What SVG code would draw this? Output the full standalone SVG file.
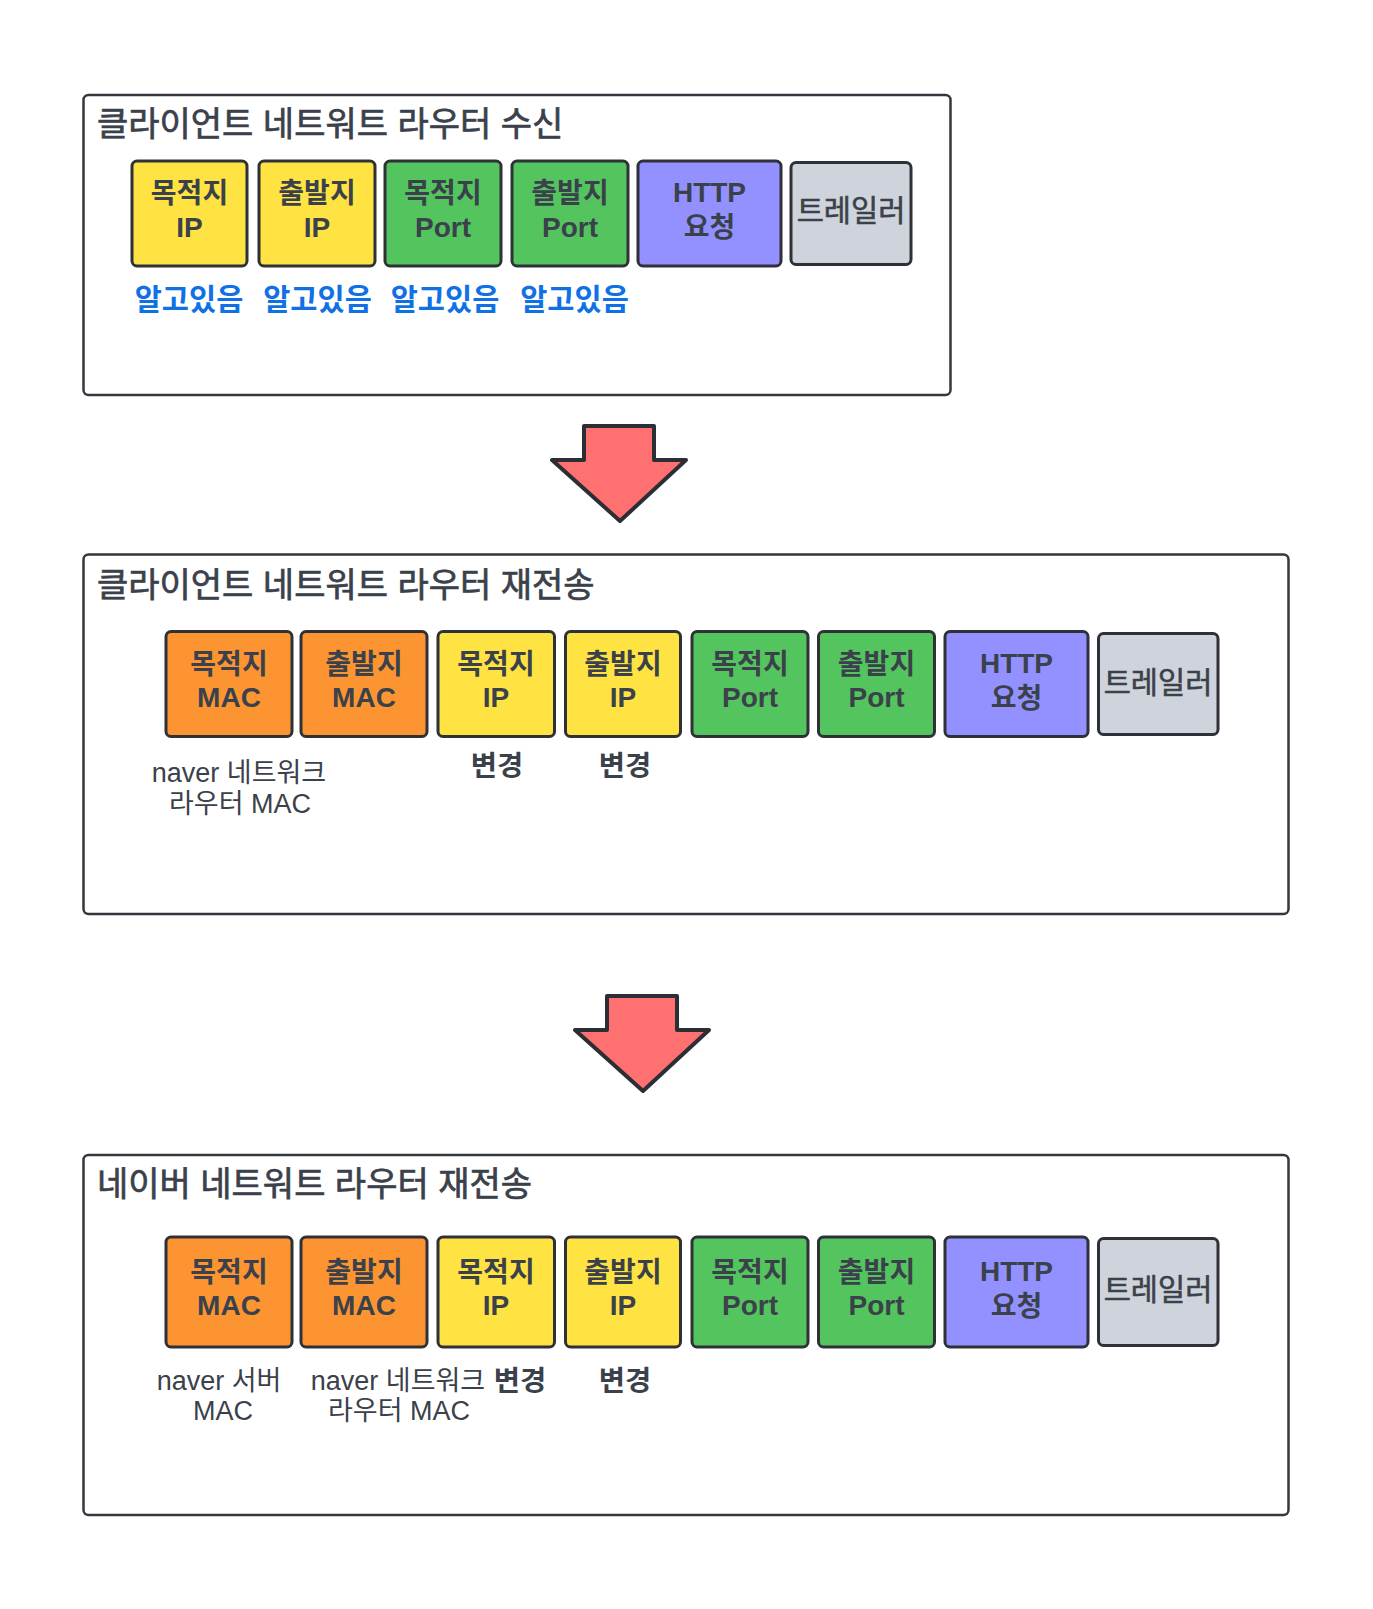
<svg xmlns="http://www.w3.org/2000/svg" width="1373" height="1609" viewBox="0 0 1373 1609">
<style>
text{font-family:"Liberation Sans","Noto Sans CJK KR",sans-serif;fill:#3b414b;text-anchor:middle}
.panel{fill:#ffffff;stroke:#33373e;stroke-width:2.5}
.blk{stroke:#2e3137;stroke-width:3}
.y{fill:#ffe342}.g{fill:#54c45e}.o{fill:#fc9432}.p{fill:#9391ff}.gr{fill:#cfd4dc}
.title{font-size:34px;text-anchor:start;stroke:#3b414b;stroke-width:0.7}
.bt{font-size:28px;font-weight:bold}
.tr{font-size:29.5px;stroke:#3b414b;stroke-width:0.6}
.blue{font-size:29.5px;font-weight:bold;fill:#1071e5}
.lab{font-size:27px}
.chg{font-size:28.5px;font-weight:bold}
.arrow{fill:#ff7070;stroke:#2b2e34;stroke-width:4;stroke-linejoin:round}
</style>
<rect width="1373" height="1609" fill="#ffffff"/>

<!-- Panel 1 -->
<g id="panel1">
<rect class="panel" x="83.5" y="95" width="867" height="300" rx="5"/>
<text class="title" x="97" y="135.5">클라이언트 네트워트 라우터 수신</text>
</g>
<g id="p1-dst-ip"><rect class="blk y" x="132" y="161" width="115" height="105" rx="5"/><text class="bt" x="189.5" y="203">목적지</text><text class="bt" x="189.5" y="237">IP</text></g>
<g id="p1-src-ip"><rect class="blk y" x="259" y="161" width="116" height="105" rx="5"/><text class="bt" x="317" y="203">출발지</text><text class="bt" x="317" y="237">IP</text></g>
<g id="p1-dst-port"><rect class="blk g" x="385" y="161" width="116" height="105" rx="5"/><text class="bt" x="443" y="203">목적지</text><text class="bt" x="443" y="237">Port</text></g>
<g id="p1-src-port"><rect class="blk g" x="512" y="161" width="116" height="105" rx="5"/><text class="bt" x="570" y="203">출발지</text><text class="bt" x="570" y="237">Port</text></g>
<g id="p1-http"><rect class="blk p" x="638" y="161" width="143" height="105" rx="5"/><text class="bt" x="709.5" y="202">HTTP</text><text class="bt" x="709.5" y="237">요청</text></g>
<g id="p1-trailer"><rect class="blk gr" x="791" y="162.5" width="120" height="102" rx="5"/><text class="tr" x="851" y="221">트레일러</text></g>
<g id="p1-labels">
<text class="blue" x="189" y="309.5">알고있음</text>
<text class="blue" x="317.5" y="309.5">알고있음</text>
<text class="blue" x="445" y="309.5">알고있음</text>
<text class="blue" x="574.5" y="309.5">알고있음</text>
</g>

<!-- Connectors -->
<g id="connectors">
<path class="arrow" d="M584,426 L654,426 L654,460 L686,460 L620,521 L552,460 L584,460 Z"/>
<path class="arrow" transform="translate(23,570)" d="M584,426 L654,426 L654,460 L686,460 L620,521 L552,460 L584,460 Z"/>
</g>

<!-- Panel 2 -->
<g id="panel2">
<rect class="panel" x="83.5" y="554.5" width="1205" height="359.5" rx="5"/>
<text class="title" x="97" y="596.5">클라이언트 네트워트 라우터 재전송</text>
</g>
<g id="p2-dst-mac"><rect class="blk o" x="166" y="631.5" width="126" height="105" rx="5"/><text class="bt" x="229" y="674">목적지</text><text class="bt" x="229" y="707">MAC</text></g>
<g id="p2-src-mac"><rect class="blk o" x="301" y="631.5" width="126" height="105" rx="5"/><text class="bt" x="364" y="674">출발지</text><text class="bt" x="364" y="707">MAC</text></g>
<g id="p2-dst-ip"><rect class="blk y" x="438" y="631.5" width="116.5" height="105" rx="5"/><text class="bt" x="496" y="674">목적지</text><text class="bt" x="496" y="707">IP</text></g>
<g id="p2-src-ip"><rect class="blk y" x="565.5" y="631.5" width="115" height="105" rx="5"/><text class="bt" x="623" y="674">출발지</text><text class="bt" x="623" y="707">IP</text></g>
<g id="p2-dst-port"><rect class="blk g" x="692" y="631.5" width="116" height="105" rx="5"/><text class="bt" x="750" y="674">목적지</text><text class="bt" x="750" y="707">Port</text></g>
<g id="p2-src-port"><rect class="blk g" x="818.5" y="631.5" width="116" height="105" rx="5"/><text class="bt" x="876.5" y="674">출발지</text><text class="bt" x="876.5" y="707">Port</text></g>
<g id="p2-http"><rect class="blk p" x="945" y="631.5" width="143" height="105" rx="5"/><text class="bt" x="1016.5" y="673">HTTP</text><text class="bt" x="1016.5" y="708">요청</text></g>
<g id="p2-trailer"><rect class="blk gr" x="1098.5" y="633.5" width="119.5" height="101" rx="5"/><text class="tr" x="1158" y="692.5">트레일러</text></g>
<g id="p2-labels">
<text class="lab" x="239" y="782">naver 네트워크</text>
<text class="lab" x="240" y="813">라우터 MAC</text>
<text class="chg" x="497" y="776">변경</text>
<text class="chg" x="625" y="776">변경</text>
</g>

<!-- Panel 3 -->
<g id="panel3">
<rect class="panel" x="83.5" y="1155" width="1205" height="360" rx="5"/>
<text class="title" x="97" y="1196">네이버 네트워트 라우터 재전송</text>
</g>
<g id="p3-dst-mac"><rect class="blk o" x="166" y="1237" width="126" height="110" rx="5"/><text class="bt" x="229" y="1282">목적지</text><text class="bt" x="229" y="1315">MAC</text></g>
<g id="p3-src-mac"><rect class="blk o" x="301" y="1237" width="126" height="110" rx="5"/><text class="bt" x="364" y="1282">출발지</text><text class="bt" x="364" y="1315">MAC</text></g>
<g id="p3-dst-ip"><rect class="blk y" x="438" y="1237" width="116.5" height="110" rx="5"/><text class="bt" x="496" y="1282">목적지</text><text class="bt" x="496" y="1315">IP</text></g>
<g id="p3-src-ip"><rect class="blk y" x="565.5" y="1237" width="115" height="110" rx="5"/><text class="bt" x="623" y="1282">출발지</text><text class="bt" x="623" y="1315">IP</text></g>
<g id="p3-dst-port"><rect class="blk g" x="692" y="1237" width="116" height="110" rx="5"/><text class="bt" x="750" y="1282">목적지</text><text class="bt" x="750" y="1315">Port</text></g>
<g id="p3-src-port"><rect class="blk g" x="818.5" y="1237" width="116" height="110" rx="5"/><text class="bt" x="876.5" y="1282">출발지</text><text class="bt" x="876.5" y="1315">Port</text></g>
<g id="p3-http"><rect class="blk p" x="945" y="1237" width="143" height="110" rx="5"/><text class="bt" x="1016.5" y="1281">HTTP</text><text class="bt" x="1016.5" y="1316">요청</text></g>
<g id="p3-trailer"><rect class="blk gr" x="1098.5" y="1238.5" width="119.5" height="107" rx="5"/><text class="tr" x="1158" y="1299.5">트레일러</text></g>
<g id="p3-labels">
<text class="lab" x="219" y="1390">naver 서버</text>
<text class="lab" x="223" y="1420">MAC</text>
<text class="lab" x="398" y="1390">naver 네트워크</text>
<text class="lab" x="399" y="1420">라우터 MAC</text>
<text class="chg" x="520" y="1390.5">변경</text>
<text class="chg" x="625" y="1390.5">변경</text>
</g>
</svg>
